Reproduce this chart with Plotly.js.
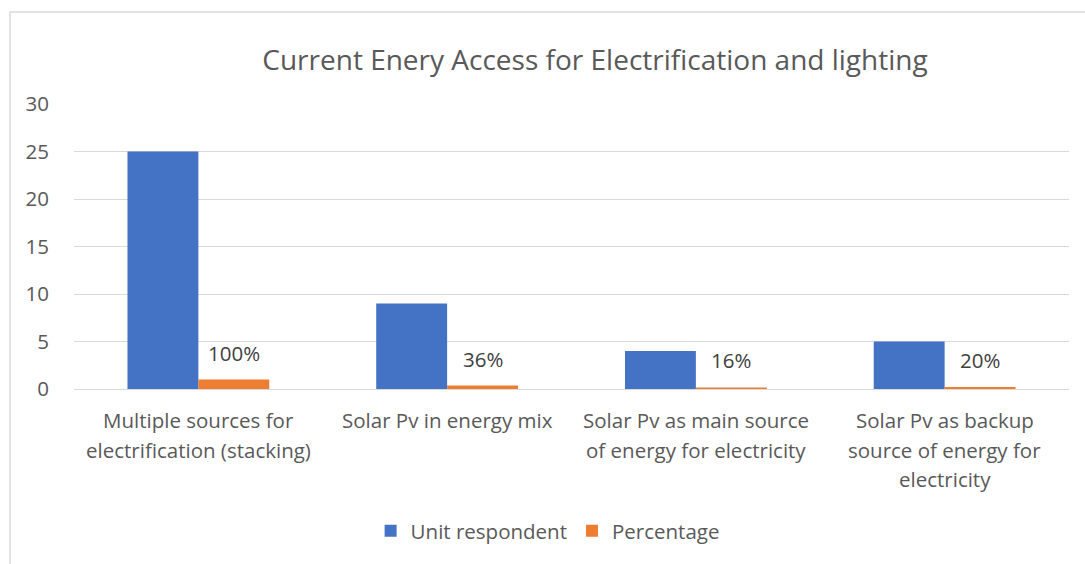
<!DOCTYPE html>
<html>
<head>
<meta charset="utf-8">
<script src="https://cdn.plot.ly/plotly-3.0.1.min.js"></script>
<style>
  html, body { margin: 0; padding: 0; background: #ffffff; }
  #chart { width: 1085px; height: 564px; }
</style>
</head>
<body>
<div id="chart"></div>
<script>
// Category labels, one entry per line of each label
const categoryLines = [
  ["Multiple sources for", "electrification (stacking)"],
  ["Solar Pv in energy mix"],
  ["Solar Pv as main source", "of energy for electricity"],
  ["Solar Pv as backup", "source of energy for", "electricity"]
];
const categories = categoryLines.map(l => l.join(" "));

// Series values
const unitRespondent = [25, 9, 4, 5];
const percentage = [1, 0.36, 0.16, 0.2];
const percentageLabels = ["100%", "36%", "16%", "20%"];

const yTicks = [0, 5, 10, 15, 20, 25, 30];

const FONT = "'Open Sans', Lato, sans-serif";
const TEXT = "#595959";
const GRID = "#d9d9d9";
const SIZE = 20.5;

const traces = [
  {
    type: "bar",
    name: "Unit respondent",
    x: categories,
    y: unitRespondent,
    marker: { color: "#4472c4" },
    hoverinfo: "x+y"
  },
  {
    type: "bar",
    name: "Percentage",
    x: categories,
    y: percentage,
    marker: { color: "#ed7d31" },
    hoverinfo: "x+y"
  }
];

const annotations = [];
// Data labels above the percentage bars
percentage.forEach((v, i) => {
  annotations.push({
    xref: "x", yref: "y",
    x: categories[i], y: v,
    xshift: 35.5, yshift: 11,
    yanchor: "bottom",
    text: percentageLabels[i],
    showarrow: false,
    font: { family: FONT, size: SIZE, color: "#404040" }
  });
});
// Multi-line category labels below the axis
categoryLines.forEach((lines, i) => {
  lines.forEach((line, j) => {
    annotations.push({
      xref: "x", yref: "paper",
      x: categories[i], y: 0,
      yshift: -31 - 29.5 * j,
      yanchor: "middle",
      text: line,
      showarrow: false,
      font: { family: FONT, size: SIZE, color: TEXT }
    });
  });
});

const layout = {
  width: 1085,
  height: 564,
  margin: { l: 74, r: 16, t: 104, b: 175 },
  paper_bgcolor: "#ffffff",
  plot_bgcolor: "#ffffff",
  font: { family: FONT, color: TEXT, size: SIZE },
  title: {
    text: "Current Enery Access for Electrification and lighting",
    font: { family: FONT, size: 28, color: TEXT },
    xref: "paper", x: 0.5236, xanchor: "center",
    yref: "container", y: 0.894, yanchor: "middle"
  },
  barmode: "group",
  bargap: 0.43,
  bargroupgap: 0,
  xaxis: {
    type: "category",
    showticklabels: false,
    showgrid: false,
    showline: false,
    zeroline: false,
    ticks: ""
  },
  yaxis: {
    range: [0, 30],
    tickvals: yTicks,
    ticktext: yTicks.map(String),
    showgrid: true,
    gridcolor: GRID,
    gridwidth: 1,
    zeroline: true,
    zerolinecolor: GRID,
    zerolinewidth: 1,
    showline: false,
    ticks: "",
    ticklabelstandoff: 24,
    tickfont: { family: FONT, size: SIZE, color: TEXT }
  },
  showlegend: true,
  legend: {
    orientation: "h",
    xref: "paper", x: 0.476, xanchor: "center",
    yref: "paper", y: -0.498, yanchor: "middle",
    font: { family: FONT, size: SIZE, color: TEXT },
    itemwidth: 30,
    traceorder: "normal"
  },
  annotations: annotations,
  shapes: [
    {
      type: "rect",
      xref: "paper", yref: "paper",
      x0: -0.0643, x1: 1.2, y0: -1.2, y1: 1.3228,
      line: { color: GRID, width: 1.5 },
      fillcolor: "rgba(0,0,0,0)",
      layer: "below"
    }
  ]
};

Plotly.newPlot("chart", traces, layout, { displayModeBar: false, staticPlot: true });
</script>
</body>
</html>
